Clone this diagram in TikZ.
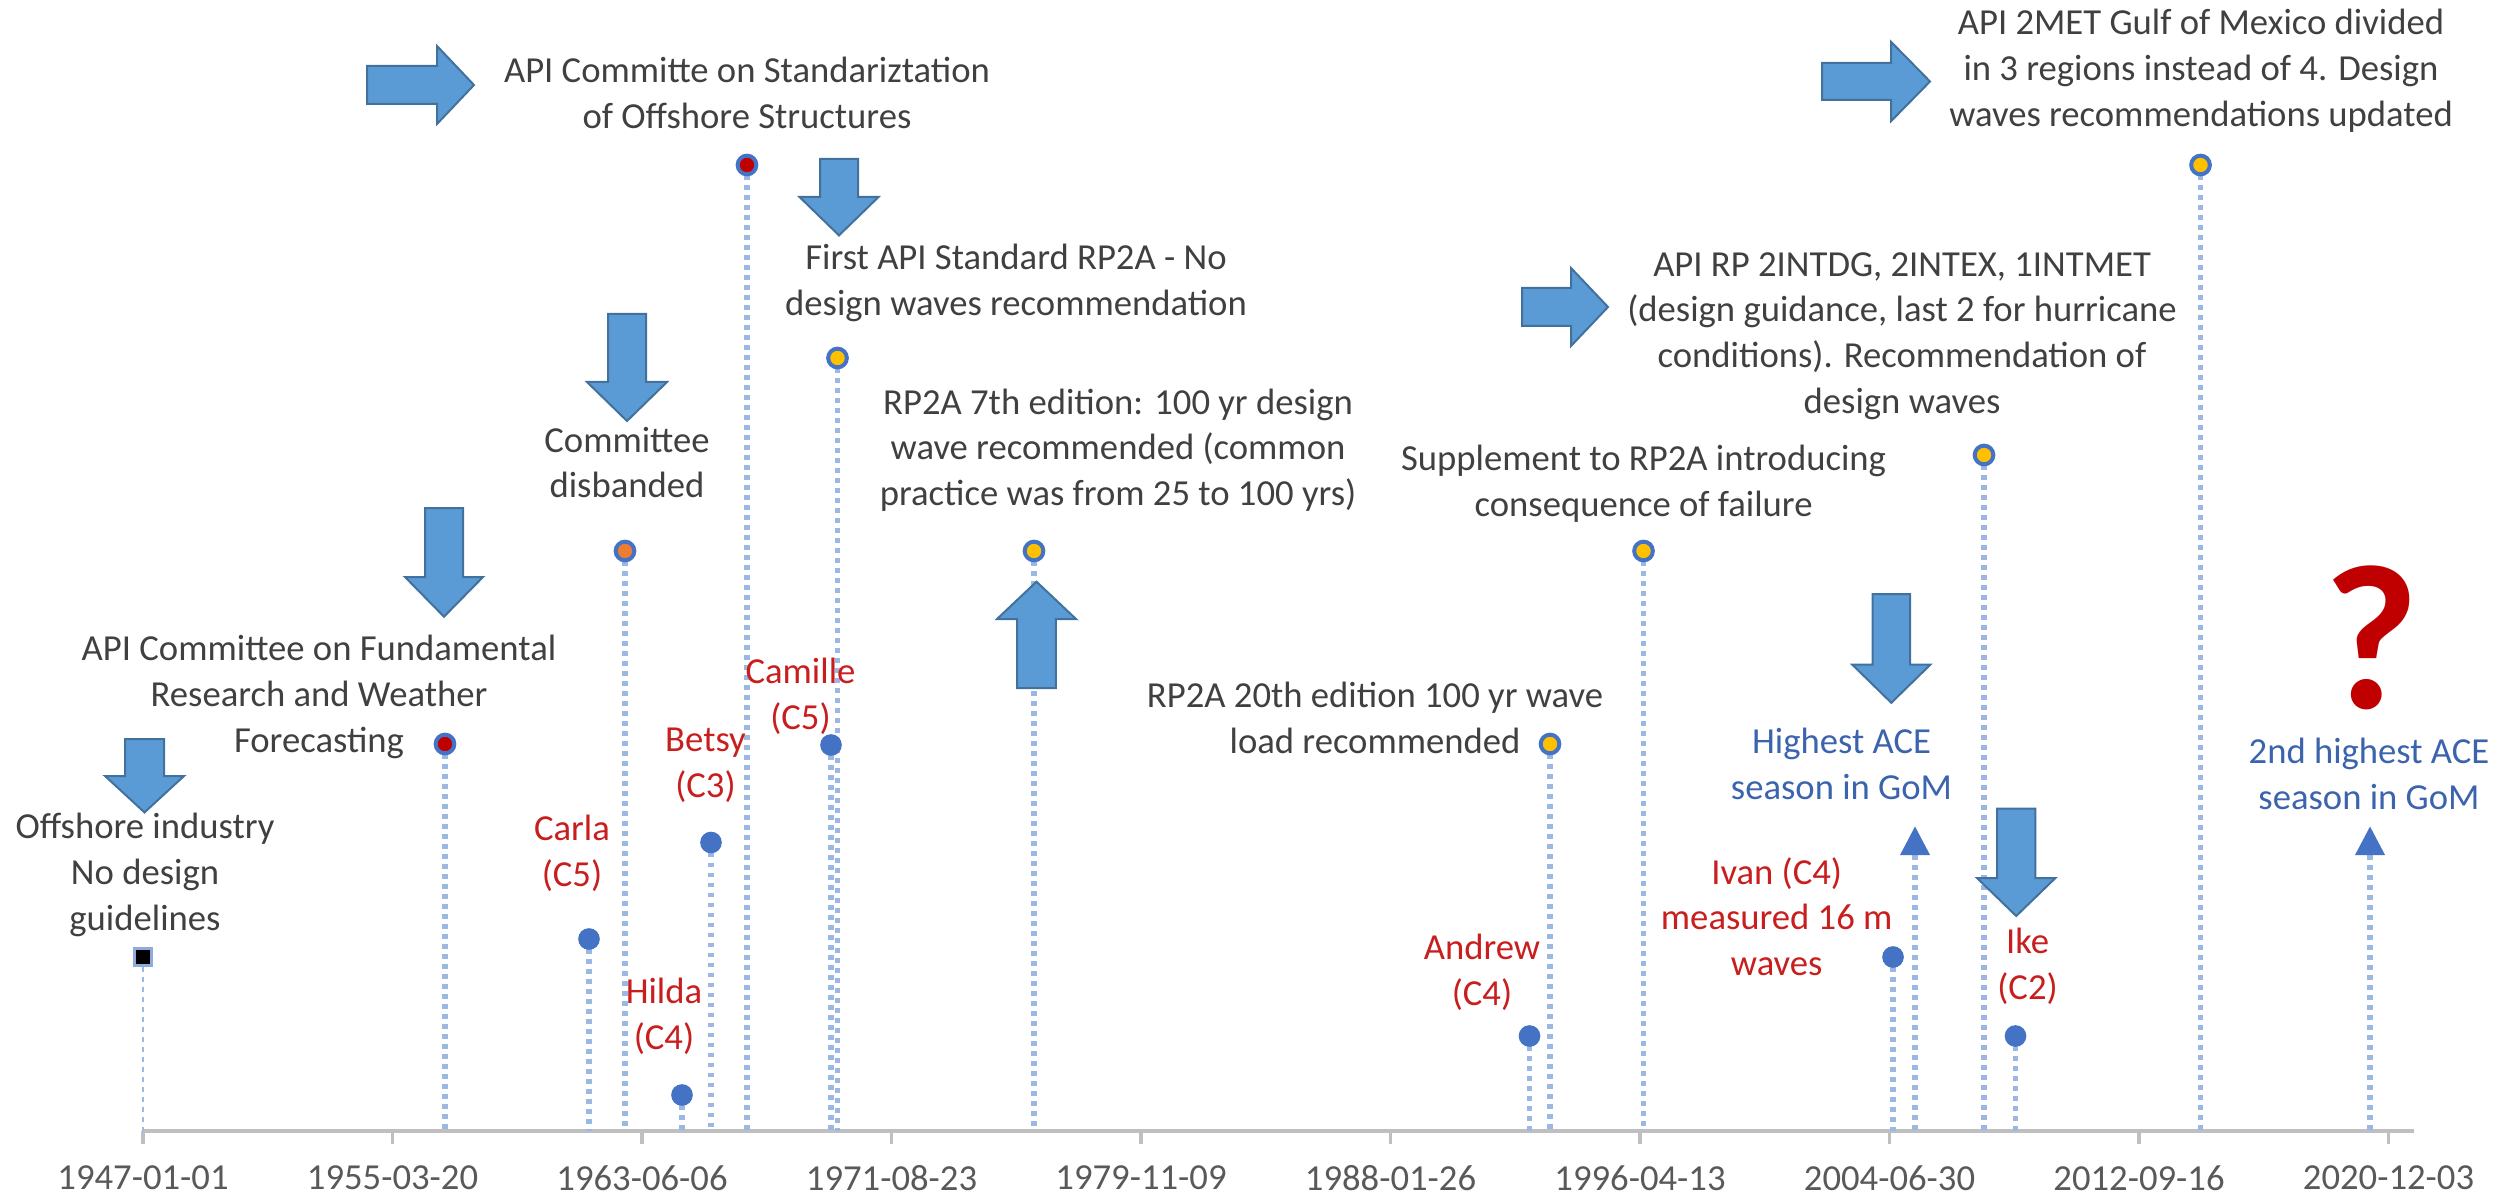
\documentclass[tikz,border=0pt]{standalone}
\usepackage{fontspec}
\setmainfont{Carlito}
\definecolor{txtgray}{HTML}{404040}
\definecolor{hurred}{HTML}{C81E1E}
\definecolor{qred}{HTML}{C00000}
\definecolor{aceblue}{HTML}{3B64AD}
\definecolor{dotblue}{HTML}{4472C4}
\definecolor{gold}{HTML}{FFC000}
\definecolor{orng}{HTML}{ED7D31}
\definecolor{arrowfill}{HTML}{5B9BD5}
\definecolor{arrowdraw}{HTML}{41719C}
\definecolor{dropblue}{RGB}{155,184,228}
\definecolor{axisgray}{HTML}{BFBFBF}
\definecolor{ticktext}{HTML}{595959}
\definecolor{sqborder}{HTML}{8FAADC}
\newcommand{\DnArrow}[6]{% xc, top, headbase, tip, shafthalf, headhalf
  \draw[blockarrow] ({#1-#5},#2) -- ({#1+#5},#2) -- ({#1+#5},#3) -- ({#1+#6},#3) -- (#1,#4) -- ({#1-#6},#3) -- ({#1-#5},#3) -- cycle;}
\newcommand{\RtArrow}[6]{% yc, left, headbase, tip, shafthalf, headhalf
  \draw[blockarrow] (#2,{#1-#5}) -- (#3,{#1-#5}) -- (#3,{#1-#6}) -- (#4,#1) -- (#3,{#1+#6}) -- (#3,{#1+#5}) -- (#2,{#1+#5}) -- cycle;}
\begin{document}
\begin{tikzpicture}[x=0.3pt,y=-0.3pt,
  lbl/.style={font=\fontsize{11}{13.7}\selectfont, text=txtgray, align=center, inner sep=0pt},
  hur/.style={lbl, text=hurred},
  acelbl/.style={lbl, text=aceblue},
  ticklbl/.style={font=\fontsize{11}{13}\selectfont, text=ticktext, inner sep=0pt},
  dropline/.style={draw=dropblue, line width=1.6pt, dash pattern=on 1.4pt off 1.6pt},
  thindrop/.style={draw=dropblue, line width=0.8pt, dash pattern=on 1.4pt off 1.6pt},
  axisline/.style={draw=axisgray, line width=1.3pt},
  tickline/.style={draw=axisgray, line width=1pt},
  bdot/.style={circle, fill=dotblue, minimum size=6.5pt, inner sep=0pt},
  ydot/.style={circle, fill=gold, draw=dotblue, line width=1.2pt, minimum size=5.6pt, inner sep=0pt},
  rdot/.style={ydot, fill=qred},
  odot/.style={ydot, fill=orng},
  sqmark/.style={rectangle, fill=black, draw=sqborder, line width=0.9pt, minimum size=5pt, inner sep=0pt},
  blockarrow/.style={fill=arrowfill, draw=arrowdraw, line width=0.6pt},
  acetri/.style={fill=dotblue}
]
\useasboundingbox (0,0) rectangle (2503,1197);

% axis
\coordinate (axL) at (143,1131);
\coordinate (axR) at (2414,1131);
\draw[axisline] (axL) -- (axR);
\foreach \i/\lab in {0/1947-01-01,1/1955-03-20,2/1963-06-06,3/1971-08-23,4/1979-11-09,5/1988-01-26,6/1996-04-13,7/2004-06-30,8/2012-09-16,9/2020-12-03}{
  \coordinate (tk\i) at ({143+\i*249.5},1131);
  \draw[tickline] (tk\i) -- ++(0,13);
  \node[ticklbl] (tl\i) at ({143+\i*249.5},1178) {\lab};
}

% marker positions
\coordinate (p-offshore) at (143,957);
\coordinate (p-fund) at (445,744);
\coordinate (p-carla) at (589,939);
\coordinate (p-disb) at (625,551);
\coordinate (p-hilda) at (682,1095);
\coordinate (p-betsy) at (711,842.5);
\coordinate (p-stand) at (747,165);
\coordinate (p-camille) at (831,745);
\coordinate (p-first) at (837.5,358);
\coordinate (p-seventh) at (1034,551);
\coordinate (p-andrew) at (1529.5,1036);
\coordinate (p-twentieth) at (1550,744);
\coordinate (p-supp) at (1643.5,551);
\coordinate (p-ivan) at (1893,957);
\coordinate (p-ace1) at (1915,855);
\coordinate (p-intdg) at (1984,455);
\coordinate (p-ike) at (2015.5,1036);
\coordinate (p-met) at (2200.5,165);
\coordinate (p-ace2) at (2370,855);

% drop lines
\draw[thindrop] (p-offshore) -- (p-offshore |- axL);
\foreach \p in {fund,carla,disb,hilda,betsy,stand,camille,first,seventh,andrew,twentieth,supp,ivan,ace1,intdg,ike,met,ace2}{
  \draw[dropline] (p-\p) -- (p-\p |- axL);
}

% markers
\node[sqmark] (m-offshore) at (p-offshore) {};
\node[rdot] (m-fund) at (p-fund) {};
\node[bdot] (m-carla) at (p-carla) {};
\node[odot] (m-disb) at (p-disb) {};
\node[bdot] (m-hilda) at (p-hilda) {};
\node[bdot] (m-betsy) at (p-betsy) {};
\node[rdot] (m-stand) at (p-stand) {};
\node[bdot] (m-camille) at (p-camille) {};
\node[ydot] (m-first) at (p-first) {};
\node[ydot] (m-seventh) at (p-seventh) {};
\node[bdot] (m-andrew) at (p-andrew) {};
\node[ydot] (m-twentieth) at (p-twentieth) {};
\node[ydot] (m-supp) at (p-supp) {};
\node[bdot] (m-ivan) at (p-ivan) {};
\node[ydot] (m-intdg) at (p-intdg) {};
\node[bdot] (m-ike) at (p-ike) {};
\node[ydot] (m-met) at (p-met) {};
\fill[acetri] (1900,855) -- (1930,855) -- (1915,826.5) -- cycle;
\fill[acetri] (2355,855) -- (2385,855) -- (2370,826.5) -- cycle;

% block arrows
\DnArrow{144.5}{739}{776}{812.4}{19.5}{39.5}
\DnArrow{444}{508}{577}{616.7}{19}{39}
\DnArrow{627}{314}{382}{421}{19}{40}
\RtArrow{85}{367}{437}{474}{19}{39}
\DnArrow{839}{159}{197}{235.4}{19}{39.5}
\DnArrow{1036.5}{688}{619}{581.7}{19.3}{39.5}
\RtArrow{307}{1522}{1571}{1608}{19}{39}
\RtArrow{81.5}{1822}{1891}{1930}{18.5}{39.7}
\DnArrow{1891.3}{594}{664.7}{702.8}{18.7}{39}
\DnArrow{2016.2}{808.6}{878}{916}{19.2}{39.2}

% labels
\node[lbl] (t-offshore) at (145,875) {Offshore industry\\No design\\guidelines};
\node[lbl] (t-fund) at (319,697) {API Committee on Fundamental\\Research and Weather\\Forecasting};
\node[hur] (t-carla) at (572,853) {Carla\\(C5)};
\node[hur] (t-hilda) at (664,1016) {Hilda\\(C4)};
\node[hur] (t-betsy) at (705.5,765) {Betsy\\(C3)};
\node[hur] (t-camille) at (800.5,696.5) {Camille\\(C5)};
\node[lbl] (t-disb) at (627,462.5) {Committee\\disbanded};
\node[lbl] (t-stand) at (747,93) {API Committe on Standariztation\\of Offshore Structures};
\node[lbl] (t-first) at (1016,283) {First API Standard RP2A - No\\design waves recommendation};
\node[lbl] (t-seventh) at (1118,450) {RP2A 7th edition: 100 yr design\\wave recommended (common\\practice was from 25 to 100 yrs)};
\node[lbl] (t-supp) at (1643.6,484) {Supplement to RP2A introducing\\consequence of failure};
\node[lbl] (t-intdg) at (1902,336) {API RP 2INTDG, 2INTEX, 1INTMET\\(design guidance, last 2 for hurricane\\conditions). Recommendation of\\design waves};
\node[lbl] (t-met) at (2201,70.8) {API 2MET Gulf of Mexico divided\\in 3 regions instead of 4. Design\\waves recommendations updated};
\node[lbl] (t-twentieth) at (1375,718) {RP2A 20th edition 100 yr wave\\load recommended};
\node[hur] (t-andrew) at (1482,972) {Andrew\\(C4)};
\node[hur] (t-ivan) at (1776.7,916.5) {Ivan (C4)\\measured 16 m\\waves};
\node[acelbl] (t-ace1) at (1841.5,764) {Highest ACE\\season in GoM};
\node[hur] (t-ike) at (2027.5,966.5) {Ike\\(C2)};
\node[acelbl] (t-ace2) at (2369,774) {2nd highest ACE\\season in GoM};
\node[font=\fontsize{62}{62}\selectfont\bfseries, text=qred, inner sep=0pt, text depth=0pt, anchor=base] (t-q) at (2371,708) {?};
\end{tikzpicture}
\end{document}
